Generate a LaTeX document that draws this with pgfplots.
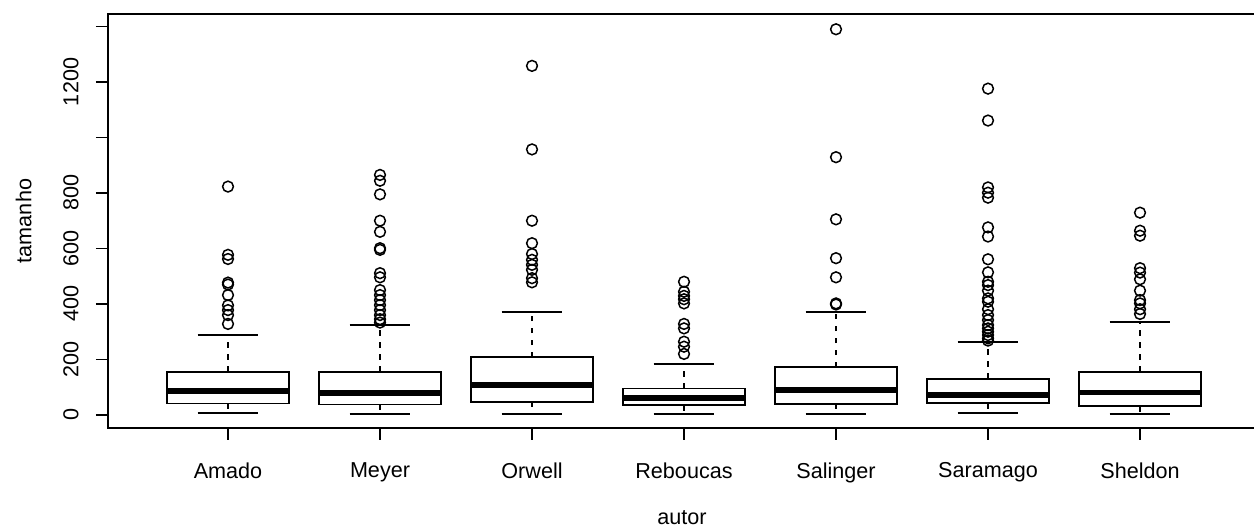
\documentclass[border=0pt]{standalone}
\usepackage{pgfplots}
\pgfplotsset{compat=1.18}
\usepackage{fontspec}
\setmainfont{Liberation Sans}
\begin{document}
\fontsize{10.5}{12.6}\selectfont
\begin{tikzpicture}
\begin{axis}[
  at={(54pt,50.5pt)}, anchor=south west,
  scale only axis, width=574pt, height=207pt,
  xmin=0.2105, xmax=7.763, ymin=-47, ymax=1445,
  axis line style={line width=0.9pt},
  xtick={1,...,7},
  xticklabels={Amado,Meyer,Orwell,Reboucas,Salinger,Saramago,Sheldon},
  ytick={0,200,...,1400}, yticklabels={0,200,400,600,800,,1200,},
  tick align=outside, major tick length=6pt,
  tick style={line width=0.9pt, black},
  xtick pos=bottom, ytick pos=left,
  /pgf/number format/assume math mode=true,
  tick label style={font=\fontsize{10.8}{13}\selectfont},
  xticklabel style={yshift=-11pt, anchor=north, inner sep=0pt},
  yticklabel style={xshift=-8.5pt, rotate=90, anchor=south, inner sep=0pt},
  xlabel={autor}, ylabel={tamanho},
  every axis x label/.style={at={(axis description cs:0.5,-0.2343)}, anchor=base, inner sep=0pt, font=\fontsize{10.8}{13}\selectfont},
  every axis y label/.style={at={(axis description cs:-0.0662,0.5)}, rotate=90, anchor=south, inner sep=0pt, font=\fontsize{10.8}{13}\selectfont},
  bx/.style={black, line width=0.9pt, line cap=rect, line join=miter, no markers},
  md/.style={black, line width=2.6pt, no markers},
  wh/.style={black, line width=0.9pt, dash pattern=on 2.8pt off 3.2pt, no markers},
  cp/.style={black, line width=0.9pt, no markers},
  ol/.style={black, only marks, mark=o, mark size=2.7pt, mark options={line width=0.75pt}},
]
% Amado
\addplot[bx] coordinates {(0.6,41) (1.4,41) (1.4,155) (0.6,155) (0.6,41)};
\addplot[md] coordinates {(0.6,86) (1.4,86)};
\addplot[wh] coordinates {(1,155) (1,289)};
\addplot[wh] coordinates {(1,41) (1,6)};
\addplot[cp] coordinates {(0.8,289) (1.2,289)};
\addplot[cp] coordinates {(0.8,6) (1.2,6)};
\addplot[ol] coordinates {(1,823) (1,577) (1,562) (1,477) (1,470) (1,432) (1,395) (1,378) (1,360) (1,328)};
% Meyer
\addplot[bx] coordinates {(1.6,38) (2.4,38) (2.4,156) (1.6,156) (1.6,38)};
\addplot[md] coordinates {(1.6,79) (2.4,79)};
\addplot[wh] coordinates {(2,156) (2,325)};
\addplot[wh] coordinates {(2,38) (2,2)};
\addplot[cp] coordinates {(1.8,325) (2.2,325)};
\addplot[cp] coordinates {(1.8,2) (2.2,2)};
\addplot[ol] coordinates {(2,865) (2,844) (2,795) (2,700) (2,660) (2,601) (2,595) (2,511) (2,496) (2,450) (2,432) (2,414) (2,396) (2,378) (2,360) (2,345) (2,333)};
% Orwell
\addplot[bx] coordinates {(2.6,48) (3.4,48) (3.4,208) (2.6,208) (2.6,48)};
\addplot[md] coordinates {(2.6,108) (3.4,108)};
\addplot[wh] coordinates {(3,208) (3,370)};
\addplot[wh] coordinates {(3,48) (3,4)};
\addplot[cp] coordinates {(2.8,370) (3.2,370)};
\addplot[cp] coordinates {(2.8,4) (3.2,4)};
\addplot[ol] coordinates {(3,1258) (3,957) (3,700) (3,619) (3,580) (3,559) (3,541) (3,523) (3,493) (3,478)};
% Reboucas
\addplot[bx] coordinates {(3.6,35) (4.4,35) (4.4,95) (3.6,95) (3.6,35)};
\addplot[md] coordinates {(3.6,61) (4.4,61)};
\addplot[wh] coordinates {(4,95) (4,183)};
\addplot[wh] coordinates {(4,35) (4,4)};
\addplot[cp] coordinates {(3.8,183) (4.2,183)};
\addplot[cp] coordinates {(3.8,4) (4.2,4)};
\addplot[ol] coordinates {(4,480) (4,444) (4,429) (4,417) (4,402) (4,328) (4,312) (4,264) (4,246) (4,220)};
% Salinger
\addplot[bx] coordinates {(4.6,40) (5.4,40) (5.4,172) (4.6,172) (4.6,40)};
\addplot[md] coordinates {(4.6,90) (5.4,90)};
\addplot[wh] coordinates {(5,172) (5,371)};
\addplot[wh] coordinates {(5,40) (5,3)};
\addplot[cp] coordinates {(4.8,371) (5.2,371)};
\addplot[cp] coordinates {(4.8,3) (5.2,3)};
\addplot[ol] coordinates {(5,1390) (5,929) (5,705) (5,565) (5,496) (5,402) (5,398)};
% Saramago
\addplot[bx] coordinates {(5.6,42) (6.4,42) (6.4,130) (5.6,130) (5.6,42)};
\addplot[md] coordinates {(5.6,72) (6.4,72)};
\addplot[wh] coordinates {(6,130) (6,262)};
\addplot[wh] coordinates {(6,42) (6,6)};
\addplot[cp] coordinates {(5.8,262) (6.2,262)};
\addplot[cp] coordinates {(5.8,6) (6.2,6)};
\addplot[ol] coordinates {(6,1176) (6,1061) (6,820) (6,801) (6,783) (6,676) (6,643) (6,561) (6,514) (6,480) (6,468) (6,448) (6,420) (6,408) (6,381) (6,360) (6,342) (6,324) (6,312) (6,300) (6,288) (6,276) (6,268)};
% Sheldon
\addplot[bx] coordinates {(6.6,32) (7.4,32) (7.4,156) (6.6,156) (6.6,32)};
\addplot[md] coordinates {(6.6,80) (7.4,80)};
\addplot[wh] coordinates {(7,156) (7,336)};
\addplot[wh] coordinates {(7,32) (7,4)};
\addplot[cp] coordinates {(6.8,336) (7.2,336)};
\addplot[cp] coordinates {(6.8,4) (7.2,4)};
\addplot[ol] coordinates {(7,729) (7,664) (7,646) (7,529) (7,513) (7,489) (7,448) (7,414) (7,402) (7,381) (7,364)};
\end{axis}
\pgfresetboundingbox
\path (0pt,0pt) rectangle (627pt,264.5pt);
\end{tikzpicture}
\end{document}
